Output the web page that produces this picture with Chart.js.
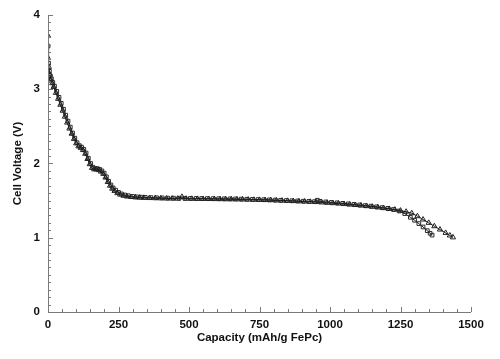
<!DOCTYPE html>
<html>
<head>
<meta charset="utf-8">
<script src="https://cdn.jsdelivr.net/npm/chart.js@4/dist/chart.umd.min.js"></script>
<style>
html,body{margin:0;padding:0;background:#fff;}
#wrap{width:500px;height:359px;position:relative;}
</style>
</head>
<body>
<div id="wrap"><canvas id="c" width="500" height="359"></canvas></div>
<script>
// Series A (triangles, longer run)
const capA = [
  0,0,3,6,10,15,20,28,36,44,
  52,60,68,76,84,92,100,108,116,124,
  132,140,148,156,164,172,180,188,196,204,
  212,220,228,236,246,256,268,280,295,310,
  325,340,360,380,400,420,440,460,475,490,
  510,530,550,570,590,610,630,650,670,690,
  710,730,750,770,790,810,830,850,870,890,
  910,930,950,970,990,1010,1030,1050,1070,1090,
  1110,1130,1150,1170,1190,1210,1230,1250,1270,1290,
  1310,1330,1350,1370,1390,1410,1425,1436
];
const voltA = [
  3.72,3.42,3.30,3.20,3.13,3.08,3.03,2.95,2.87,2.79,
  2.71,2.63,2.55,2.47,2.40,2.33,2.27,2.23,2.21,2.18,
  2.13,2.06,1.99,1.94,1.92,1.92,1.91,1.89,1.86,1.81,
  1.75,1.70,1.66,1.63,1.60,1.58,1.565,1.555,1.548,1.543,
  1.54,1.537,1.534,1.532,1.53,1.528,1.527,1.526,1.55,1.525,
  1.524,1.523,1.522,1.521,1.52,1.519,1.518,1.517,1.516,1.515,
  1.513,1.511,1.509,1.507,1.505,1.502,1.499,1.496,1.493,1.49,
  1.487,1.484,1.48,1.475,1.47,1.465,1.46,1.453,1.446,1.44,
  1.433,1.425,1.417,1.408,1.398,1.388,1.378,1.365,1.35,1.33,
  1.29,1.245,1.2,1.155,1.11,1.065,1.03,1.005
];
// Series B (squares, shorter run)
const capB = [
  0,2,5,8,12,17,23,31,39,47,
  55,63,71,79,87,95,103,111,119,127,
  135,143,151,159,167,175,183,191,199,207,
  215,223,231,240,250,260,272,285,300,315,
  330,345,365,385,405,425,445,465,485,505,
  525,545,565,585,605,625,645,665,685,705,
  725,745,765,785,805,825,845,865,885,905,
  925,945,955,965,985,1005,1025,1045,1065,1085,
  1105,1125,1145,1165,1185,1205,1225,1245,1265,1285,
  1300,1315,1330,1345,1355,1362
];
const voltB = [
  3.58,3.35,3.24,3.18,3.14,3.09,3.04,2.97,2.89,2.81,
  2.73,2.65,2.57,2.49,2.41,2.34,2.28,2.24,2.22,2.19,
  2.14,2.07,2.00,1.95,1.93,1.93,1.92,1.90,1.87,1.82,
  1.76,1.71,1.67,1.64,1.61,1.59,1.575,1.565,1.556,1.55,
  1.546,1.543,1.54,1.538,1.536,1.534,1.533,1.532,1.531,1.53,
  1.529,1.528,1.527,1.526,1.525,1.524,1.523,1.522,1.52,1.518,
  1.516,1.514,1.512,1.51,1.507,1.504,1.501,1.498,1.495,1.492,
  1.489,1.486,1.505,1.49,1.482,1.476,1.47,1.463,1.456,1.449,
  1.441,1.433,1.425,1.416,1.406,1.395,1.38,1.36,1.325,1.275,
  1.235,1.19,1.145,1.095,1.06,1.035
];
const xTicks = [0,250,500,750,1000,1250,1500];
const yTicks = [0,1,2,3,4];
const xTitle = 'Capacity (mAh/g FePc)';
const yTitle = 'Cell Voltage (V)';

const toPts = (xs, ys) => xs.map((x, i) => ({x: x, y: ys[i]}));

const FONT = "'Liberation Sans', Arial, sans-serif";
const AXIS_COLOR = '#7a7a7a';

const insideTicks = {
  id: 'insideTicks',
  afterDraw(chart) {
    const {ctx, chartArea: {left, right, top, bottom}, scales: {x, y}} = chart;
    ctx.save();
    ctx.strokeStyle = AXIS_COLOR;
    ctx.lineWidth = 1;
    ctx.beginPath();
    ctx.moveTo(left + 0.5, y.getPixelForValue(4));
    ctx.lineTo(left + 0.5, bottom + 0.5);
    ctx.lineTo(x.getPixelForValue(1500), bottom + 0.5);
    for (let v = 0; v <= 1500; v += 50) {
      const px = Math.round(x.getPixelForValue(v)) + 0.5;
      const len = (v % 250 === 0) ? 5 : 3;
      ctx.moveTo(px, bottom);
      ctx.lineTo(px, bottom - len);
    }
    for (let t = 0; t <= 40; t++) {
      const py = Math.round(y.getPixelForValue(t / 10)) + 0.5;
      const len = (t % 10 === 0) ? 5 : 3;
      ctx.moveTo(left, py);
      ctx.lineTo(left + len, py);
    }
    ctx.stroke();
    ctx.restore();
  }
};

new Chart(document.getElementById('c'), {
  type: 'scatter',
  data: {
    datasets: [
      {
        label: 'A',
        data: toPts(capA, voltA),
        showLine: true,
        borderColor: '#1a1a1a',
        borderWidth: 1,
        pointStyle: 'triangle',
        pointRadius: 3,
        pointBorderWidth: 1,
        pointBorderColor: '#222',
        pointBackgroundColor: 'rgba(0,0,0,0)',
        tension: 0
      },
      {
        label: 'B',
        data: toPts(capB, voltB),
        showLine: true,
        borderColor: '#1a1a1a',
        borderWidth: 1,
        pointStyle: 'rect',
        pointRadius: 2.6,
        pointBorderWidth: 1,
        pointBorderColor: '#2a2a2a',
        pointBackgroundColor: 'rgba(0,0,0,0)',
        tension: 0
      }
    ]
  },
  options: {
    responsive: false,
    animation: false,
    devicePixelRatio: 1,
    layout: {padding: {top: 12, right: 29, left: 0, bottom: 0}},
    plugins: {legend: {display: false}, tooltip: {enabled: false}},
    scales: {
      x: {
        type: 'linear',
        min: 0, max: 1500,
        afterFit(s) { s.height = 47; },
        afterBuildTicks(s) { s.ticks = xTicks.map(v => ({value: v})); },
        grid: {display: false, drawTicks: false},
        border: {display: false},
        ticks: {padding: 6, color: '#111', font: {family: FONT, size: 11.5, weight: 'bold'}, maxRotation: 0, callback: v => String(v)},
        title: {display: true, text: xTitle, color: '#111', font: {family: FONT, size: 11.5, weight: 'bold'}, padding: {top: 0, bottom: 14}}
      },
      y: {
        type: 'linear',
        min: 0, max: 4,
        afterFit(s) { s.width = 48; },
        afterBuildTicks(s) { s.ticks = yTicks.map(v => ({value: v})); },
        grid: {display: false, drawTicks: false},
        border: {display: false},
        ticks: {padding: 8, color: '#111', font: {family: FONT, size: 11.5, weight: 'bold'}, callback: v => String(v)},
        title: {display: true, text: yTitle, color: '#111', font: {family: FONT, size: 11.5, weight: 'bold'}, padding: {top: 11, bottom: 0}}
      }
    }
  },
  plugins: [insideTicks]
});
</script>
</body>
</html>
